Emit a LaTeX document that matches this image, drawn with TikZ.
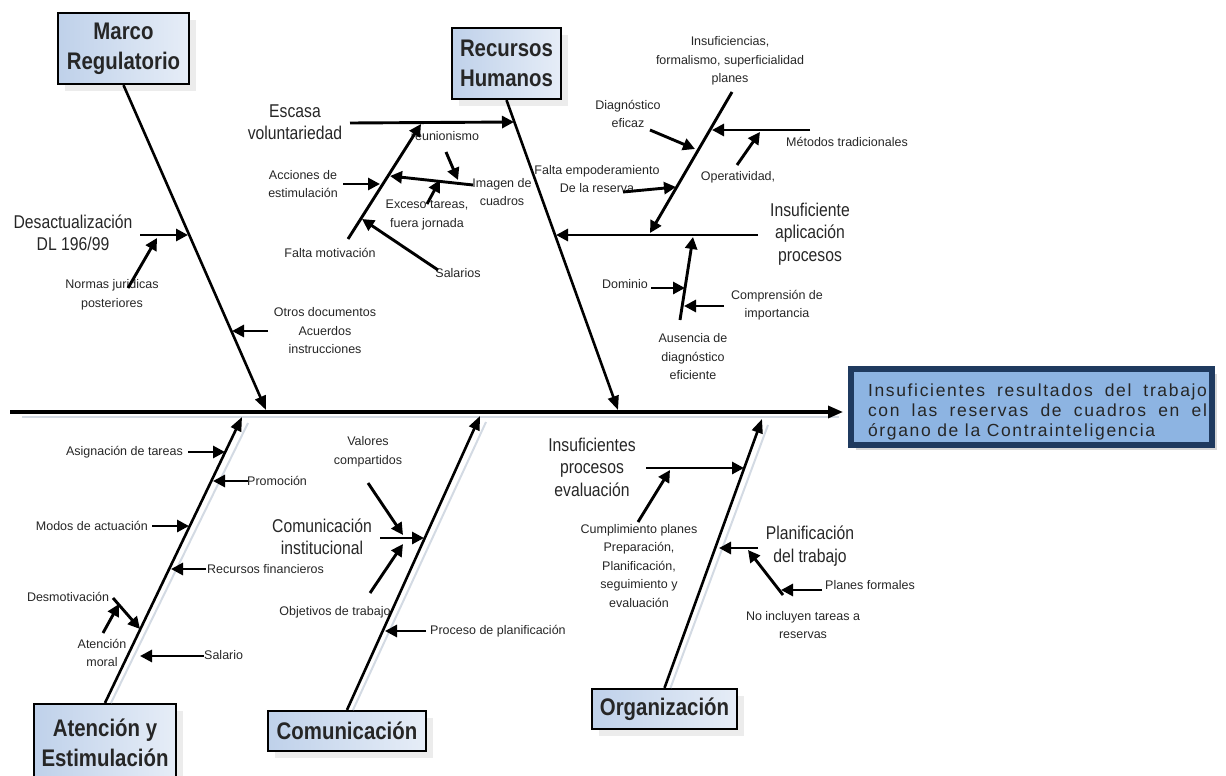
\documentclass[tikz,border=0pt]{standalone}
\usepackage{fontspec}
\setmainfont{Liberation Sans}
\newfontfamily\narrowf[FakeStretch=0.85]{Liberation Sans}
\newfontfamily\effectf[LetterSpace=9.5]{Liberation Sans}
\usetikzlibrary{arrows.meta,shadows,calc}
\definecolor{titlefillL}{HTML}{BFD1EA}
\definecolor{titlefillR}{HTML}{E6EDF7}
\definecolor{navy}{HTML}{1F3A5F}
\definecolor{effectfill}{HTML}{8DB4E2}
\definecolor{ink}{HTML}{262626}
\definecolor{shadowgray}{HTML}{D3DAE3}
\tikzset{
  fishbone/.style={line width=2.6pt, -{Triangle[length=14pt,width=11pt]}},
  backbone/.style={line width=3.2pt, -{Triangle[length=15pt,width=12pt]}},
  cause/.style={line width=2.9pt, -{Triangle[length=12pt,width=12pt]}},
  shadowline/.style={line width=2pt, shadowgray},
  lbl/.style={font=\fontsize{12.5}{18.5}\selectfont, text=ink, align=center, inner sep=0pt},
  sublbl/.style={font=\narrowf\fontsize{18.5}{22.5}\selectfont, text=ink, align=center, inner sep=0pt},
  category/.style={draw=black, line width=2.2pt, left color=titlefillL, right color=titlefillR,
    font=\narrowf\bfseries\fontsize{24}{30}\selectfont, text=ink, align=center, inner sep=0pt,
    drop shadow={shadow xshift=7pt, shadow yshift=-7pt, fill=black!15}},
}
\begin{document}
\begin{tikzpicture}[x=1pt,y=-1pt]
\useasboundingbox (0,0) rectangle (1226,776);
\clip (0,0) rectangle (1226,776);

% ---------- effect ----------
\node[draw=navy, line width=6pt, fill=effectfill, minimum width=361pt, minimum height=76pt,
      inner sep=0pt, drop shadow={shadow xshift=5pt, shadow yshift=-5pt, fill=black!30}]
      (effect) at (1031.5,407) {};
\node[font=\effectf\fontsize{17.5}{20}\selectfont, text=ink, align=left, inner sep=0pt]
      (efftext) at (1037.5,412)
      {\hbox to 339pt{Insuficientes resultados del trabajo}\\
       \hbox to 339pt{con las reservas de cuadros en el}\\
       órgano de la Contrainteligencia};

% ---------- backbone ----------
\coordinate (spine0) at (10,412);
\coordinate (spine1) at (843,412);
\draw[shadowline] ($(spine0)+(12,5)$) -- ($(spine1)+(-4,5)$);
\draw[backbone] (spine0) -- (spine1);

% ---------- categories ----------
\node[category, minimum width=131pt, minimum height=71pt] (marco) at (123.5,48.5) {Marco\\Regulatorio};
\node[category, minimum width=109pt, minimum height=71pt] (rrhh) at (506.5,63.5) {Recursos\\Humanos};
\node[category, minimum width=142pt, minimum height=78pt] (aten) at (105,743) {Atención y\\Estimulación};
\node[category, minimum width=158pt, minimum height=40pt] (comu) at (347,731) {Comunicación};
\node[category, minimum width=145pt, minimum height=40pt] (orga) at (664.5,709) {Organización};

\coordinate (mtip) at (266,410);
\coordinate (rtip) at (618,410);
\coordinate (atip) at (242,417);
\coordinate (ctip) at (480,416);
\coordinate (otip) at (762,419);

\draw[shadowline] ($(aten.north)+(6,0)$) -- ($(atip)+(6,6)$);
\draw[shadowline] ($(comu.north)+(6,0)$) -- ($(ctip)+(6,6)$);
\draw[shadowline] ($(orga.north)+(6,0)$) -- ($(otip)+(6,6)$);

\draw[fishbone] (marco.south) -- (mtip);
\draw[fishbone] (rrhh.south) -- (rtip);
\draw[fishbone] (aten.north) -- (atip);
\draw[fishbone] (comu.north) -- (ctip);
\draw[fishbone] (orga.north) -- (otip);

% ---------- Marco Regulatorio ----------
\node[sublbl] (desact) at (73,233) {Desactualización\\DL 196/99};
\node[lbl] (normas) at (112,295) {Normas juridicas\\posteriores};
\node[lbl] (otros) at (325,331) {Otros documentos\\Acuerdos\\instrucciones};
\coordinate (d1) at (140,235); \coordinate (d2) at (188,235);
\coordinate (n1) at (128,288); \coordinate (n2) at (157,238);
\coordinate (o1) at (268,331); \coordinate (o2) at (232,331);
\draw[cause] (d1) -- (d2);
\draw[cause] (n1) -- (n2);
\draw[cause] (o1) -- (o2);

% ---------- Recursos Humanos: voluntariedad ----------
\node[sublbl] (escasa) at (295,122) {Escasa\\voluntariedad};
\node[lbl] (reun) at (445,136) {reunionismo};
\node[lbl] (acc) at (303,184) {Acciones de\\estimulación};
\node[lbl] (imag) at (502,192) {Imagen de\\cuadros};
\node[lbl] (exc) at (427,215) {Exceso tareas,\\fuera jornada};
\node[lbl] (falta) at (330,253) {Falta motivación};
\node[lbl] (sal) at (458,273) {Salarios};
\coordinate (e1) at (350,123); \coordinate (e2) at (514,122);
\coordinate (f1) at (348,239); \coordinate (f2) at (421,124);
\coordinate (a1) at (343,184); \coordinate (a2) at (380,184);
\coordinate (i1) at (473,185); \coordinate (i2) at (390,176);
\coordinate (r1) at (446,152); \coordinate (r2) at (458,180);
\coordinate (x1) at (427,204); \coordinate (x2) at (440,180);
\coordinate (s1) at (438,270); \coordinate (s2) at (362,219);
\draw[cause] (e1) -- (e2);
\draw[cause] (f1) -- (f2);
\draw[cause] (a1) -- (a2);
\draw[cause] (i1) -- (i2);
\draw[cause] (r1) -- (r2);
\draw[cause] (x1) -- (x2);
\draw[cause] (s1) -- (s2);

% ---------- Recursos Humanos: aplicación de procesos ----------
\node[sublbl] (insap) at (810,234) {Insuficiente\\aplicación\\procesos};
\node[lbl] (insf) at (730,61) {Insuficiencias,\\formalismo, superficialidad\\planes};
\node[lbl] (diag) at (628,114) {Diagnóstico\\eficaz};
\node[lbl] (metod) at (847,142) {Métodos tradicionales};
\node[lbl] (oper) at (738,177) {Operatividad,};
\node[lbl] (emp) at (597,179) {Falta empoderamiento\\De la reserva};
\node[lbl] (dom) at (625,284) {Dominio};
\node[lbl] (compr) at (777,305) {Comprensión de\\importancia};
\node[lbl] (aus) at (693,357) {Ausencia de\\diagnóstico\\eficiente};
\coordinate (p1) at (758,235); \coordinate (p2) at (556,235);
\coordinate (q1) at (732,92);  \coordinate (q2) at (650,233);
\coordinate (g1) at (650,130); \coordinate (g2) at (695,149);
\coordinate (m1) at (810,130); \coordinate (m2) at (712,130);
\coordinate (t1) at (737,165); \coordinate (t2) at (760,132);
\coordinate (w1) at (623,192); \coordinate (w2) at (676,187);
\coordinate (u1) at (680,320); \coordinate (u2) at (693,237);
\coordinate (h1) at (651,288); \coordinate (h2) at (685,288);
\coordinate (k1) at (724,306); \coordinate (k2) at (684,306);
\draw[cause] (p1) -- (p2);
\draw[cause] (q1) -- (q2);
\draw[cause] (g1) -- (g2);
\draw[cause] (m1) -- (m2);
\draw[cause] (t1) -- (t2);
\draw[cause] (w1) -- (w2);
\draw[cause] (u1) -- (u2);
\draw[cause] (h1) -- (h2);
\draw[cause] (k1) -- (k2);

% ---------- Atención y Estimulación ----------
\node[lbl, anchor=east] (asig) at (183,452) {Asignación de tareas};
\node[lbl, anchor=west] (prom) at (247,481) {Promoción};
\node[lbl, anchor=east] (modos) at (148,526) {Modos de actuación};
\node[lbl, anchor=west] (recf) at (207,569) {Recursos financieros};
\node[lbl] (desm) at (68,597) {Desmotivación};
\node[lbl] (atmor) at (102,653) {Atención\\moral};
\node[lbl, anchor=west] (salario) at (204,655) {Salario};
\coordinate (as1) at (188,452); \coordinate (as2) at (225,452);
\coordinate (pr1) at (248,481); \coordinate (pr2) at (213,481);
\coordinate (mo1) at (152,526); \coordinate (mo2) at (189,526);
\coordinate (rf1) at (206,569); \coordinate (rf2) at (171,569);
\coordinate (de1) at (113,598); \coordinate (de2) at (140,629);
\coordinate (am1) at (103,633); \coordinate (am2) at (119,604);
\coordinate (sa1) at (204,656); \coordinate (sa2) at (140,656);
\draw[cause] (as1) -- (as2);
\draw[cause] (pr1) -- (pr2);
\draw[cause] (mo1) -- (mo2);
\draw[cause] (rf1) -- (rf2);
\draw[cause] (de1) -- (de2);
\draw[cause] (am1) -- (am2);
\draw[cause] (sa1) -- (sa2);

% ---------- Comunicación ----------
\node[lbl] (val) at (368,452) {Valores\\compartidos};
\node[sublbl] (comi) at (322,537) {Comunicación\\institucional};
\node[lbl] (obj) at (335,612) {Objetivos de trabajo};
\node[lbl, anchor=west] (proc) at (430,631) {Proceso de planificación};
\coordinate (ci1) at (380,538); \coordinate (ci2) at (424,538);
\coordinate (va1) at (368,483); \coordinate (va2) at (403,535);
\coordinate (ob1) at (370,593); \coordinate (ob2) at (403,544);
\coordinate (pc1) at (426,631); \coordinate (pc2) at (385,631);
\draw[cause] (ci1) -- (ci2);
\draw[cause] (va1) -- (va2);
\draw[cause] (ob1) -- (ob2);
\draw[cause] (pc1) -- (pc2);

% ---------- Organización ----------
\node[sublbl] (insev) at (592,467) {Insuficientes\\procesos\\evaluación};
\node[lbl] (cump) at (639,566) {Cumplimiento planes\\Preparación,\\Planificación,\\seguimiento y\\evaluación};
\node[sublbl] (planif) at (810,546) {Planificación\\del trabajo};
\node[lbl, anchor=west] (planf) at (825,585) {Planes formales};
\node[lbl] (noinc) at (803,625) {No incluyen tareas a\\reservas};
\coordinate (ie1) at (646,468); \coordinate (ie2) at (744,468);
\coordinate (cu1) at (638,522); \coordinate (cu2) at (670,470);
\coordinate (pl1) at (758,548); \coordinate (pl2) at (719,548);
\coordinate (ni1) at (783,595); \coordinate (ni2) at (748,550);
\coordinate (pf1) at (822,590); \coordinate (pf2) at (781,590);
\draw[cause] (ie1) -- (ie2);
\draw[cause] (cu1) -- (cu2);
\draw[cause] (pl1) -- (pl2);
\draw[cause] (ni1) -- (ni2);
\draw[cause] (pf1) -- (pf2);
\end{tikzpicture}
\end{document}
